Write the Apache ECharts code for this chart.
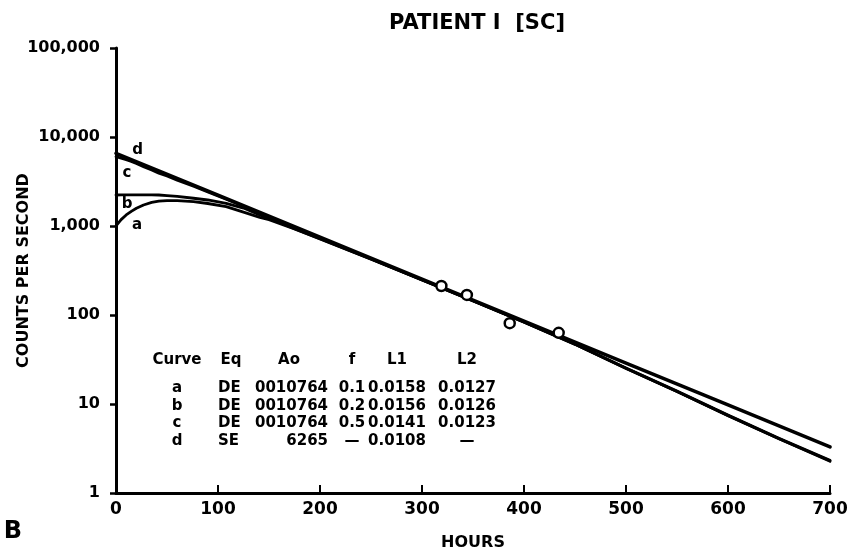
<!DOCTYPE html>
<html>
<head>
<meta charset="utf-8">
<script src="https://cdn.jsdelivr.net/npm/echarts@6/dist/echarts.min.js"></script>
<style>html,body{margin:0;padding:0;background:#fff}#c{width:851px;height:550px}</style>
</head>
<body>
<div id="c"></div>
<script>
// ---- data ----
const hours = [0, 5, 10, 15, 20, 27, 35, 42, 50, 60, 76, 90, 108, 125, 141, 150, 175, 200, 250, 300, 350, 400, 450, 500, 550, 600, 650, 700];
const curveA = [1000, 1180, 1330, 1460, 1580, 1720, 1840, 1900, 1925, 1930, 1875, 1790, 1650, 1430, 1250, 1175, 925, 716, 424, 247, 144, 83, 46.8, 25.1, 13.8, 7.4, 4.07, 2.27];
const curveB = [2230, 2232, 2235, 2238, 2240, 2240, 2238, 2230, 2200, 2150, 2050, 1960, 1800, 1590, 1330, 1220, 935, 722, 426, 248, 144.5, 83.3, 47, 25.2, 13.85, 7.42, 4.08, 2.3];
const curveC = [6000, 5780, 5550, 5300, 5030, 4650, 4270, 3930, 3650, 3280, 2800, 2420, 2000, 1670, 1410, 1270, 966, 735, 428, 249, 145, 83.5, 47.2, 25.4, 13.95, 7.5, 4.13, 2.33];
const hoursD = [0, 100, 200, 300, 400, 500, 600, 700];
const curveD = [6560, 2220, 748, 253, 85.4, 28.8, 9.75, 3.29];
const obsHours = [319, 344, 386, 434];
const obsCounts = [212, 168, 81, 63];
const xTickLabels = ['0', '100', '200', '300', '400', '500', '600', '700'];
const yTickLabels = ['1', '10', '100', '1,000', '10,000', '100,000'];
const tableHeader = ['Curve', 'Eq', 'Ao', 'f', 'L1', 'L2'];
const tableCurve = ['a', 'b', 'c', 'd'];
const tableEq = ['DE', 'DE', 'DE', 'SE'];
const tableAo = ['0010764', '0010764', '0010764', '6265'];
const tableF = ['0.1', '0.2', '0.5', '—'];
const tableL1 = ['0.0158', '0.0156', '0.0141', '0.0108'];
const tableL2 = ['0.0127', '0.0126', '0.0123', '—'];

const FONT = '"DejaVu Sans", "Liberation Sans", sans-serif';
const pair = (xs, ys) => xs.map((x, i) => [x, ys[i]]);
const lineSeries = (data, w) => ({
  type: 'line', data, smooth: false, showSymbol: false, symbol: 'none',
  lineStyle: { color: '#000', width: w, join: 'round', cap: 'round' }, z: 2, silent: true
});

const chart = echarts.init(document.getElementById('c'), null, { renderer: 'canvas' });

const txt = (x, y, text, size, align) => ({
  type: 'text', x, y,
  style: { text, fill: '#000', font: 'bold ' + size + 'px ' + FONT, textAlign: align || 'center', textVerticalAlign: 'middle' }
});

const graphics = [
  txt(477, 24, 'PATIENT I  [SC]', 21),
  txt(13, 532, 'B', 24),
  txt(137.5, 150, 'd', 15), txt(127, 173, 'c', 15), txt(127, 204, 'b', 15), txt(137, 225, 'a', 15)
];
// table
const colX = [177, 231, 289, 352, 397, 467];
const headerY = 360;
const rowY = [388, 406, 423.5, 441];
tableHeader.forEach((h, i) => graphics.push(txt(colX[i], headerY, h, 15)));
rowY.forEach((y, r) => {
  graphics.push(txt(177, y, tableCurve[r], 15));
  graphics.push(txt(218, y, tableEq[r], 15, 'left'));
  graphics.push(txt(328, y, tableAo[r], 15, 'right'));
  graphics.push(txt(352, y, tableF[r], 15));
  graphics.push(txt(397, y, tableL1[r], 15));
  graphics.push(txt(467, y, tableL2[r], 15));
});

chart.setOption({
  animation: false,
  backgroundColor: '#fff',
  grid: { left: 116, right: 21, top: 48, bottom: 57, containLabel: false, outerBoundsMode: 'none' },
  xAxis: {
    type: 'value', min: 0, max: 700, interval: 100,
    name: 'HOURS', nameLocation: 'middle', nameGap: 42, nameMoveOverlap: false,
    nameTextStyle: { color: '#000', fontFamily: FONT, fontWeight: 'bold', fontSize: 16 },
    axisLine: { lineStyle: { color: '#000', width: 3 } },
    axisTick: { inside: true, length: 8, lineStyle: { color: '#000', width: 2 } },
    axisLabel: { color: '#000', fontFamily: FONT, fontWeight: 'bold', fontSize: 17, margin: 8,
      formatter: (v) => xTickLabels[Math.round(v / 100)] },
    splitLine: { show: false }
  },
  yAxis: {
    type: 'log', logBase: 10, min: 1, max: 100000,
    name: 'COUNTS PER SECOND', nameLocation: 'middle', nameGap: 84, nameRotate: 90, nameMoveOverlap: false,
    nameTextStyle: { color: '#000', fontFamily: FONT, fontWeight: 'bold', fontSize: 16 },
    axisLine: { show: true, lineStyle: { color: '#000', width: 3 } },
    axisTick: { show: true, inside: false, length: 6, lineStyle: { color: '#000', width: 2.5 } },
    axisLabel: { color: '#000', fontFamily: FONT, fontWeight: 'bold', fontSize: 16, margin: 16,
      formatter: (v) => yTickLabels[Math.round(Math.log10(v))] },
    splitLine: { show: false }
  },
  graphic: graphics,
  series: [
    lineSeries(pair(hours, curveA), 2.8),
    lineSeries(pair(hours, curveB), 2.8),
    lineSeries(pair(hours, curveC), 2.8),
    lineSeries(pair(hoursD, curveD), 3.5),
    {
      type: 'scatter', data: pair(obsHours, obsCounts), symbol: 'circle', symbolSize: 10, z: 5,
      itemStyle: { color: '#fff', borderColor: '#000', borderWidth: 2.5, opacity: 1 }
    }
  ]
});
</script>
</body>
</html>
